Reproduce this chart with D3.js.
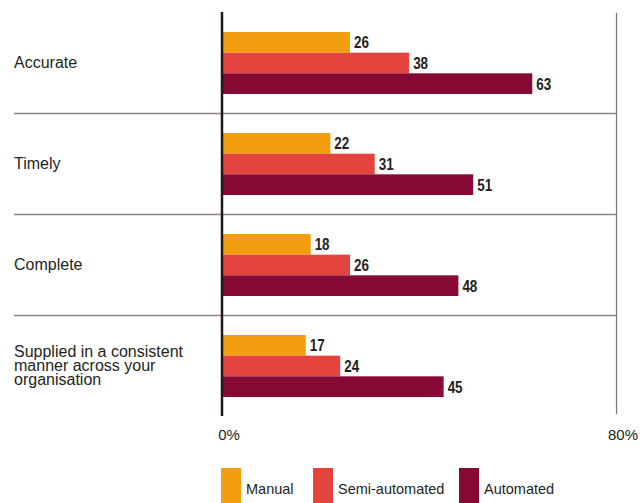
<!DOCTYPE html>
<html>
<head>
<meta charset="utf-8">
<script src="https://cdn.jsdelivr.net/npm/d3@7"></script>
<style>
  body { margin: 0; background: #fff; }
  svg text { font-family: "Liberation Sans", Arial, Helvetica, sans-serif; fill: #231f20; }
  .val { font-family: "Liberation Sans Narrow", "Liberation Sans", Arial, sans-serif; font-weight: bold; font-size: 16px; }
</style>
</head>
<body>
<div id="chart"></div>
<script>
// data
const categories = ["Accurate", "Timely", "Complete", "Supplied in a consistent\nmanner across your\norganisation"];
const seriesNames = ["Manual", "Semi-automated", "Automated"];
const manual = [26, 22, 18, 17];
const semiAutomated = [38, 31, 26, 24];
const automated = [63, 51, 48, 45];
const tickValues = [0, 80];

const colors = ["#f29e0f", "#e4443e", "#860a35"];

const width = 640, height = 503;

const svg = d3.select("#chart").append("svg")
    .attr("width", width)
    .attr("height", height);

const rows = categories.map(function(c, i){
    return { name: c, values: [manual[i], semiAutomated[i], automated[i]] };
});

const x = d3.scaleLinear().domain([0, 80]).range([222, 616]);
const y = d3.scaleBand().domain(categories).range([12, 416]);
const ySub = d3.scaleBand().domain(seriesNames).range([20, 82]);

// row separators
svg.selectAll(".sep")
    .data(categories.slice(1))
    .enter()
    .append("line")
    .attr("class", "sep")
    .attr("x1", 14)
    .attr("x2", x(80))
    .attr("y1", d => y(d) + 0.5)
    .attr("y2", d => y(d) + 0.5)
    .attr("stroke", "#8a8582")
    .attr("stroke-width", 1.5);

// right reference line at 80%
svg.append("line")
    .attr("x1", x(80) + 0.5).attr("x2", x(80) + 0.5)
    .attr("y1", 13).attr("y2", 414)
    .attr("stroke", "#7a7470")
    .attr("stroke-width", 1.2);

// bars
const groups = svg.selectAll(".row")
    .data(rows)
    .enter()
    .append("g")
    .attr("class", "row")
    .attr("transform", d => `translate(0,${y(d.name)})`);

groups.selectAll("rect")
    .data(d => d.values.map((v, i) => ({ key: seriesNames[i], value: v, i: i })))
    .enter()
    .append("rect")
    .attr("x", x(0))
    .attr("y", d => ySub(d.key))
    .attr("width", d => x(d.value) - x(0))
    .attr("height", ySub.bandwidth())
    .attr("fill", d => colors[d.i]);

// value labels, squeezed to look like a condensed face
groups.selectAll(".val")
    .data(d => d.values.map((v, i) => ({ key: seriesNames[i], value: v })))
    .enter()
    .append("text")
    .attr("class", "val")
    .attr("transform", d => `translate(${x(d.value) + 4},${ySub(d.key) + ySub.bandwidth() / 2 + 6}) scale(0.84,1)`)
    .text(d => d.value);

// category labels
groups.each(function(d){
    const lines = d.name.split("\n");
    const cy = y.bandwidth() / 2 + 5.5;
    d3.select(this).selectAll(".cat")
        .data(lines)
        .enter()
        .append("text")
        .attr("class", "cat")
        .attr("x", 14)
        .attr("y", (l, i) => cy + (i - (lines.length - 1) / 2) * 14)
        .style("font-size", "16px")
        .text(l => l);
});

// zero axis
svg.append("line")
    .attr("x1", x(0)).attr("x2", x(0))
    .attr("y1", 12).attr("y2", 416)
    .attr("stroke", "#231815")
    .attr("stroke-width", 2.5);

// tick labels
svg.selectAll(".tick-label")
    .data(tickValues)
    .enter()
    .append("text")
    .attr("class", "tick-label")
    .attr("x", d => x(d) + 7)
    .attr("y", 440)
    .attr("text-anchor", "middle")
    .style("font-size", "15px")
    .text(d => d + "%");

// legend
const legendX = [221, 313, 459];
const legend = svg.append("g").attr("class", "legend");

legend.selectAll("rect")
    .data(seriesNames)
    .enter()
    .append("rect")
    .attr("x", (d, i) => legendX[i])
    .attr("y", 468)
    .attr("width", 20)
    .attr("height", 40)
    .attr("fill", (d, i) => colors[i]);

legend.selectAll("text")
    .data(seriesNames)
    .enter()
    .append("text")
    .attr("x", (d, i) => legendX[i] + 25)
    .attr("y", 494)
    .style("font-size", "14.5px")
    .text(d => d);
</script>
</body>
</html>
